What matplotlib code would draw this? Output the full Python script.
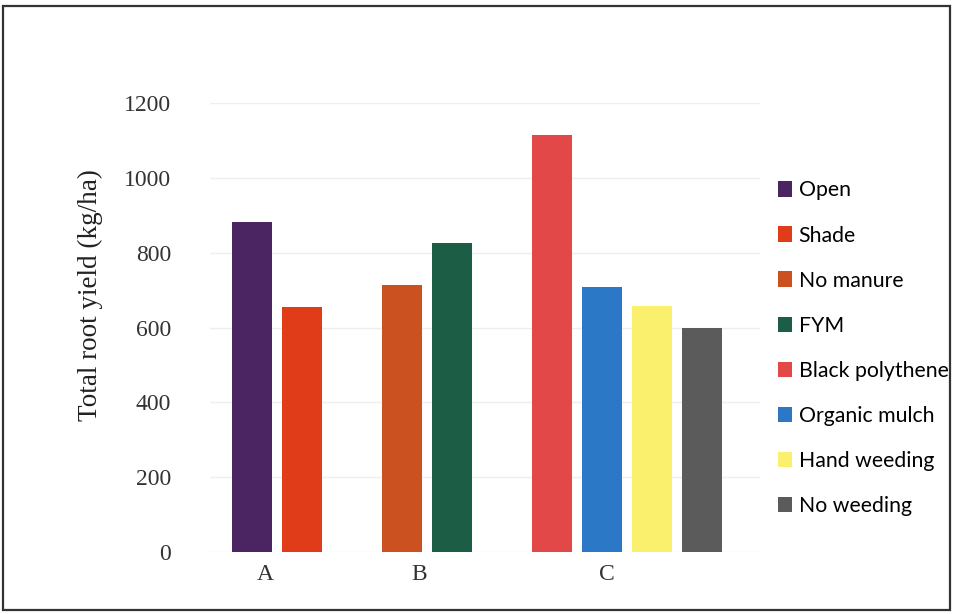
import matplotlib.pyplot as plt
from matplotlib.patches import Patch, Rectangle

treatments = ['Open', 'Shade', 'No manure', 'FYM', 'Black polythene',
              'Organic mulch', 'Hand weeding', 'No weeding']
yields = [882, 655, 714, 826, 1115, 709, 658, 599]
colors = ['#4b2561', '#e13c19', '#cb5220', '#1b5d45', '#e24848',
          '#2a78c6', '#fbef6e', '#5b5b5b']
# slot index of each bar; empty slots separate the groups
slots = [0, 1, 3, 4, 6, 7, 8, 9]
groups = ['A', 'B', 'C']
group_ticks = [0.26, 3.34, 7.1]

fig = plt.figure(figsize=(9.54, 6.14), dpi=100)
ax = fig.add_axes([210 / 954, 62 / 614, 550 / 954, 449 / 614])

ax.bar(slots, yields, width=0.8, color=colors, zorder=2)
ax.set_xlim(-0.84, 10.16)
ax.set_ylim(0, 1200)
ax.set_yticks(range(0, 1201, 200))
ax.set_xticks(group_ticks)
ax.set_xticklabels(groups)
ax.grid(axis='y', color='#eeeeee', linewidth=1, zorder=0)
for s in ax.spines.values():
    s.set_visible(False)
ax.tick_params(length=0, labelsize=17, colors='#333333')
ax.tick_params(axis='y', pad=28)
ax.tick_params(axis='x', pad=9)
for lab in ax.get_xticklabels() + ax.get_yticklabels():
    lab.set_family('Liberation Serif')
ax.set_ylabel('Total root yield (kg/ha)', family='Liberation Serif',
              fontsize=19.5, color='#222222')
ax.yaxis.set_label_coords(-0.195, 0.572)

handles = [Patch(facecolor=c) for c in colors]
fig.legend(handles, treatments, loc='upper left', bbox_to_anchor=(770 / 954, 1 - 172 / 614),
           frameon=False, labelspacing=1.18, handlelength=0.65,
           handleheight=0.75, handletextpad=0.3, borderaxespad=0,
           prop={'family': 'Lato', 'size': 15.3})

# outer frame
fig.add_artist(Rectangle((3 / 954, 4 / 614), 947 / 954, 604 / 614, transform=fig.transFigure,
                         fill=False, edgecolor='#333333', linewidth=1.6))

fig.savefig('out.png', dpi=100)
